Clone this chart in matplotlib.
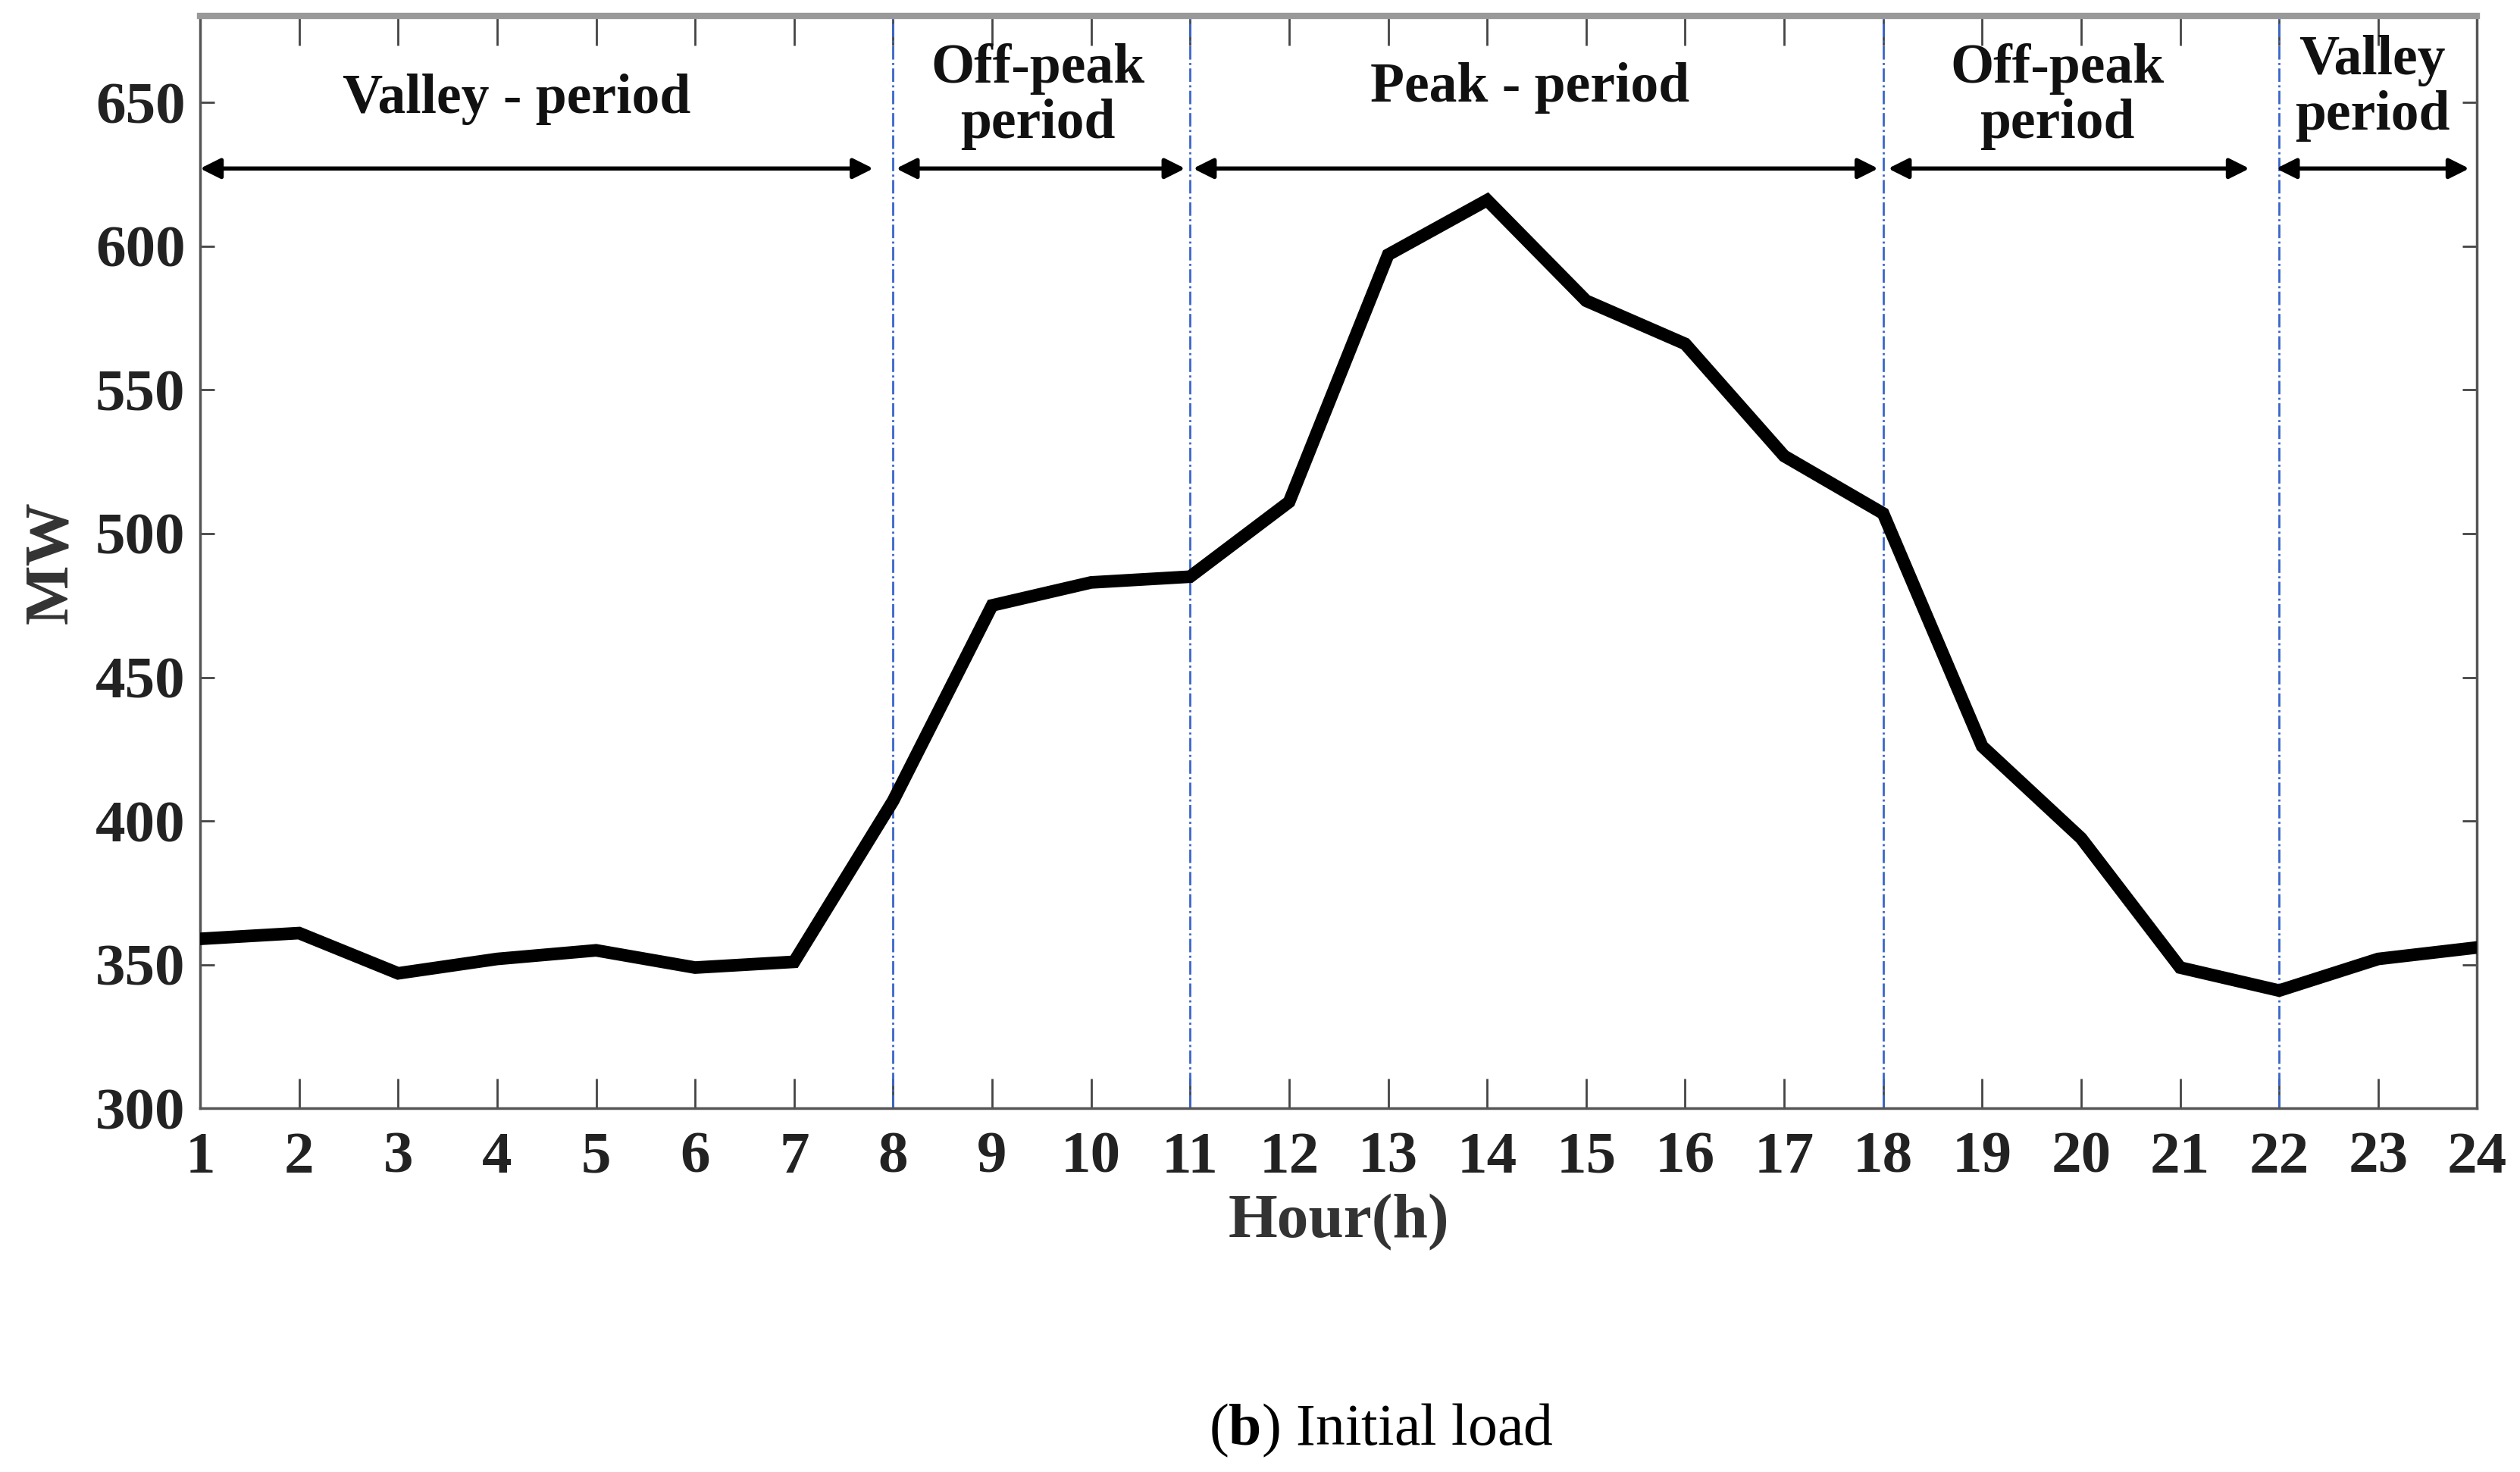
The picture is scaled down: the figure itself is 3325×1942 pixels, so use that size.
import numpy as np
import matplotlib.pyplot as plt

# hourly load (MW)
hours = np.arange(1, 25)
load = [359, 361, 347, 352, 355, 349, 351, 407, 475, 483, 485, 511,
        597, 616, 581, 566, 527, 507, 426, 394, 349, 341, 352, 356]

# period boundaries and labels
bounds = [8, 11, 18, 22]
spans = [(1, 7.8), (8.03, 10.95), (11.03, 17.95), (18.05, 21.7), (21.97, 23.92)]
labels = ["Valley - period", "Off-peak\nperiod", "Peak - period", "Off-peak\nperiod", "Valley\nperiod"]
label_x = [4.2, 9.46, 14.43, 19.76, 22.94]
label_y = [651, 652, 655, 652, 655]

plt.rcParams['font.family'] = ['Liberation Serif', 'DejaVu Serif']
plt.rcParams['mathtext.fontset'] = 'custom'
plt.rcParams['mathtext.rm'] = 'Liberation Serif'
plt.rcParams['mathtext.bf'] = 'Liberation Serif:bold'

fig = plt.figure(figsize=(33.25, 19.42), dpi=100)
ax = fig.add_axes([0.0794, 0.247, 0.9036, 0.742])

ax.plot(hours, load, color='black', linewidth=12, solid_joinstyle='miter', zorder=3)

for b in bounds:
    ax.axvline(b, color='#3a66c8', linestyle='-.', linewidth=2, zorder=2)

arrow_y = 627
for (x0, x1), lab, lx, ly in zip(spans, labels, label_x, label_y):
    ax.annotate('', xy=(x1, arrow_y), xytext=(x0, arrow_y),
                arrowprops=dict(arrowstyle='<|-|>', color='black', lw=4,
                                mutation_scale=40, shrinkA=0, shrinkB=0))
    ax.text(lx, ly, lab, ha='center', va='center', fontsize=53,
            fontweight='bold', linespacing=1.1, color='#111111')

ax.set_xlim(1, 24)
ax.set_ylim(300, 680)
ax.set_xticks(hours)
ax.set_yticks(np.arange(300, 651, 50))
ax.tick_params(axis='both', labelsize=57, width=2, colors='#444444',
               labelcolor='#222222', top=True, right=True, direction='in')
ax.tick_params(axis='x', length=28, pad=22)
ax.tick_params(axis='y', length=14, pad=14)
for lab in ax.get_xticklabels() + ax.get_yticklabels():
    lab.set_fontweight('bold')
for sp in ax.spines.values():
    sp.set_color('#555555')
    sp.set_linewidth(2.5)
ax.spines['top'].set_color('#999999')
ax.spines['top'].set_linewidth(6)

ax.set_xlabel("Hour(h)", fontsize=60, fontweight='bold', color='#333333', labelpad=8)
ax.set_ylabel("MW", fontsize=60, fontweight='bold', color='#333333', labelpad=14)

fig.text(0.548, 0.028, r"($\mathbf{b}$) Initial load", ha='center', va='center', fontsize=56)

fig.savefig('out.png', dpi=100)
